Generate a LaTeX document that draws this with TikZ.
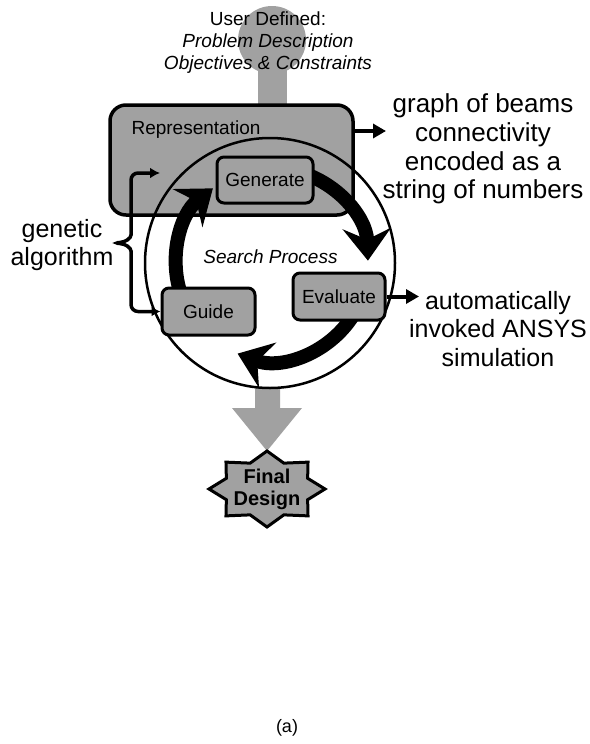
\documentclass[tikz,border=0pt]{standalone}
\usepackage{fontspec}
\setmainfont{Liberation Sans}
\usetikzlibrary{arrows.meta}
\definecolor{dither}{gray}{0.63}
\begin{document}
\begin{tikzpicture}[x=1pt,y=-1pt,
  boxstyle/.style={draw, line width=3pt, rounded corners=7pt, fill=dither, inner sep=0pt,
    font={\fontsize{19}{22}\selectfont}},
  repstyle/.style={draw, line width=3.5pt, rounded corners=16pt, fill=dither, inner sep=0pt},
  biglabel/.style={align=center, font={\fontsize{26}{28.8}\selectfont}},
  toplabel/.style={align=center, font={\fontsize{19}{22}\selectfont}},
  midlabel/.style={font={\fontsize{19}{22}\selectfont}},
  ringline/.style={line width=14pt, -{Stealth[length=32pt,width=48pt,inset=11pt]}},
  thinring/.style={line width=2.5pt},
  outarrow/.style={line width=4pt, -{Triangle[length=13pt,width=14pt]}},
  galine/.style={line width=3.5pt, rounded corners=7pt},
  starstyle/.style={draw, line width=3pt, fill=dither, line join=miter}
]
\useasboundingbox (0,0) rectangle (589,744);

% top balloon
\fill[dither] (272,40) circle[radius=34];
\fill[dither] (258,62) rectangle (287,110);
\node[toplabel] (userdef) at (268,43) {User Defined:\\\textit{Problem Description}\\\textit{Objectives \& Constraints}};

% representation box
\node[repstyle, minimum width=243pt, minimum height=110pt] (rep) at (231.5,160) {};
\node[midlabel] (replabel) at (196,130) {Representation};

% gray arrow down to final design
\fill[dither] (255,388) -- (280,388) -- (280,408) -- (302,408) -- (267,451) -- (232,408) -- (255,408) -- cycle;

% big thin circle
\coordinate (cc) at (270,263);
\draw[thinring] (cc) circle[radius=125];

% thick ring arcs
\coordinate (rc) at (272,264);
\draw[ringline] ([shift={(-80:96)}]rc) arc[start angle=-80, end angle=-2, radius=96];
\draw[ringline] ([shift={(30:96)}]rc) arc[start angle=30, end angle=111, radius=96];
\draw[ringline] ([shift={(160:96)}]rc) arc[start angle=160, end angle=232, radius=96];

\node[midlabel, font={\fontsize{19}{22}\selectfont\itshape}] (search) at (270.5,257) {Search Process};

% process boxes
\node[boxstyle, minimum width=96pt, minimum height=46pt] (gen) at (265,180) {Generate};
\node[boxstyle, minimum width=92pt, minimum height=47pt] (eval) at (339,296.5) {Evaluate};
\node[boxstyle, minimum width=93pt, minimum height=47pt] (guide) at (208.5,311.5) {Guide};

% output arrows
\coordinate (repTip) at (386,131);
\draw[outarrow] (rep.east |- repTip) -- (repTip);
\coordinate (evalTip) at (419,296.5);
\draw[outarrow] (eval.east) -- (evalTip);

% right labels
\node[biglabel] (graphlbl) at (483,149) {graph of beams\\connectivity\\encoded as a\\string of numbers};
\node[biglabel, font={\fontsize{25}{28.8}\selectfont}] (ansys) at (498,329) {automatically\\invoked ANSYS\\simulation};

% genetic algorithm brace
\node[biglabel, font={\fontsize{25}{27.5}\selectfont}] (ga) at (62,245) {genetic\\algorithm};
\coordinate (gaTop) at (160,173);
\draw[galine, {Latex[length=10pt,width=11pt]}-{Latex[length=9pt,width=10pt]}]
  (gaTop) -- (131,173) -- (131,228)
  .. controls (131,238) and (126,242) .. (113,243)
  .. controls (126,244) and (131,248) .. (131,258)
  -- (131,311.5) -- (guide.west);

% final design star
\draw[starstyle] plot[samples at={0,1,...,15}, variable=\k]
  ({267+(58-14*mod(\k,2))*cos(22.5*\k)}, {489+(38-10*mod(\k,2))*sin(22.5*\k)}) -- cycle;
\node[align=center, font={\fontsize{20}{22}\selectfont\bfseries}] (final) at (267,489) {Final\\Design};

\node[font={\fontsize{18}{21}\selectfont}] (alabel) at (287,728) {(a)};
\end{tikzpicture}
\end{document}
